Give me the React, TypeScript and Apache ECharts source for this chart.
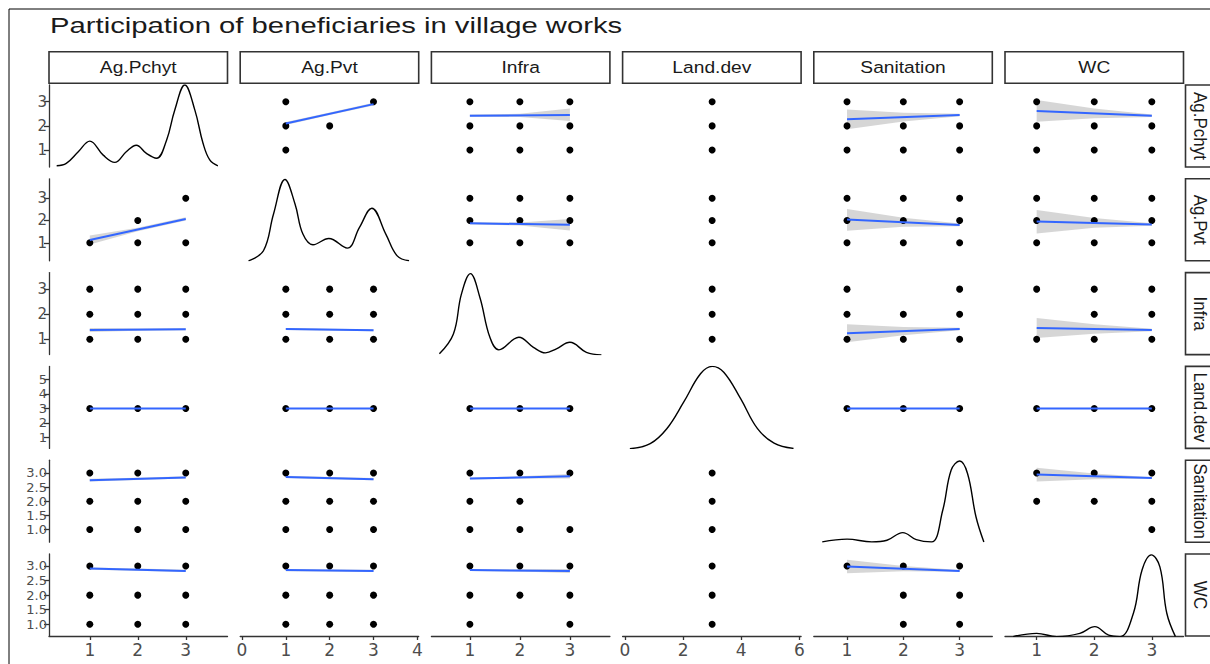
import React, { useEffect, useRef } from "react";
import * as echarts from "echarts";

// ---------- data ----------
const VARS = ["Ag.Pchyt", "Ag.Pvt", "Infra", "Land.dev", "Sanitation", "WC"];
const X_MIN = [0.15, -0.04, 0.23, -0.08, 0.41, 0.45];
const X_MAX = [3.87, 4.03, 3.8, 6.06, 3.58, 3.55];
const Y_MIN = [0.3, 0.19, 0.39, 0.24, 0.55, 0.6];
const Y_MAX = [3.69, 3.87, 3.66, 5.9, 3.45, 3.41];
const X_TICKS = [[1, 2, 3], [0, 1, 2, 3, 4], [1, 2, 3], [0, 2, 4, 6], [1, 2, 3], [1, 2, 3]];
const Y_TICKS = [[1, 2, 3], [1, 2, 3], [1, 2, 3], [1, 2, 3, 4, 5], [1, 1.5, 2, 2.5, 3], [1, 1.5, 2, 2.5, 3]];
const Y_DECIMALS = [0, 0, 0, 0, 1, 1];

// diagonal densities (x in column units, y in row units)
const DENS_AG_PCHYT = [[0.31, 0.35], [0.51, 0.45], [0.76, 0.93], [1.0, 1.37], [1.28, 0.79], [1.52, 0.49], [1.76, 0.93], [1.97, 1.2], [2.18, 0.86], [2.39, 0.66], [2.6, 1.41], [2.77, 2.65], [2.98, 3.69], [3.19, 2.65], [3.36, 1.28], [3.5, 0.59], [3.67, 0.35]];
const DENS_AG_PVT = [[0.15, 0.19], [0.49, 0.64], [0.72, 2.29], [0.98, 3.84], [1.21, 2.74], [1.39, 1.39], [1.62, 0.91], [1.98, 1.19], [2.4, 0.76], [2.68, 1.69], [2.96, 2.55], [3.28, 1.39], [3.54, 0.41], [3.81, 0.19]];
const DENS_INFRA = [[0.39, 0.42], [0.67, 1.21], [0.83, 2.8], [1.01, 3.62], [1.2, 2.67], [1.4, 1.08], [1.58, 0.58], [1.98, 1.08], [2.27, 0.68], [2.51, 0.46], [2.73, 0.62], [3.0, 0.88], [3.33, 0.48], [3.63, 0.38]];
const DENS_LAND_DEV = [[0.17, 0.22], [0.87, 0.57], [1.44, 1.6], [2.02, 3.43], [2.6, 5.39], [3.0, 5.9], [3.4, 5.5], [3.98, 3.67], [4.56, 1.6], [5.13, 0.61], [5.8, 0.24]];
const DENS_SANITATION = [[0.56, 0.56], [1.0, 0.66], [1.44, 0.56], [1.71, 0.62], [1.99, 0.89], [2.23, 0.64], [2.5, 0.56], [2.7, 1.68], [2.85, 3.1], [3.0, 3.42], [3.14, 2.98], [3.29, 1.45], [3.43, 0.56]];
const DENS_WC = [[0.59, 0.58], [1.0, 0.69], [1.35, 0.58], [1.75, 0.69], [2.01, 0.92], [2.25, 0.63], [2.45, 0.58], [2.68, 1.38], [2.83, 2.86], [2.99, 3.38], [3.14, 2.97], [3.26, 1.38], [3.41, 0.58]];
const DENSITIES = [DENS_AG_PCHYT, DENS_AG_PVT, DENS_INFRA, DENS_LAND_DEV, DENS_SANITATION, DENS_WC];

// scatter point sets [x, y]
const FULL = [[1, 1], [1, 2], [1, 3], [2, 1], [2, 2], [2, 3], [3, 1], [3, 2], [3, 3]];
const LAND_AS_X = [[3, 1], [3, 2], [3, 3]];
const LAND_AS_Y = [[1, 3], [2, 3], [3, 3]];
const PVT_VS_PCHYT = [[1, 1], [1, 2], [1, 3], [2, 2], [3, 3]];
const PCHYT_VS_PVT = [[1, 1], [2, 1], [2, 2], [3, 1], [3, 3]];
const SAN_VS_INFRA = [[1, 1], [1, 2], [1, 3], [2, 1], [2, 2], [3, 1], [3, 2], [3, 3]];
const WC_VS_INFRA = [[1, 1], [1, 3], [2, 1], [2, 2], [2, 3], [3, 1], [3, 2], [3, 3]];
const INFRA_VS_SAN = [[1, 1], [1, 2], [1, 3], [2, 1], [2, 2], [2, 3], [3, 1], [3, 3]];
const WC_VS_SAN = [[1, 2], [1, 3], [2, 2], [2, 3], [3, 1], [3, 2], [3, 3]];
const INFRA_VS_WC = [[1, 1], [1, 2], [1, 3], [2, 2], [2, 3], [3, 1], [3, 2], [3, 3]];
const SAN_VS_WC = [[1, 3], [2, 1], [2, 2], [2, 3], [3, 1], [3, 2], [3, 3]];

const POINTS_ROW1 = [null, PVT_VS_PCHYT, FULL, LAND_AS_X, FULL, FULL];
const POINTS_ROW2 = [PCHYT_VS_PVT, null, FULL, LAND_AS_X, FULL, FULL];
const POINTS_ROW3 = [FULL, FULL, null, LAND_AS_X, SAN_VS_INFRA, WC_VS_INFRA];
const POINTS_ROW4 = [LAND_AS_Y, LAND_AS_Y, LAND_AS_Y, null, LAND_AS_Y, LAND_AS_Y];
const POINTS_ROW5 = [FULL, FULL, INFRA_VS_SAN, LAND_AS_X, null, WC_VS_SAN];
const POINTS_ROW6 = [FULL, FULL, INFRA_VS_WC, LAND_AS_X, SAN_VS_WC, null];
const POINTS = [POINTS_ROW1, POINTS_ROW2, POINTS_ROW3, POINTS_ROW4, POINTS_ROW5, POINTS_ROW6];

// linear fits: [y at x=1, y at x=3]
const FIT_ROW1 = [null, [2.1, 2.9], [2.42, 2.45], null, [2.27, 2.45], [2.62, 2.42]];
const FIT_ROW2 = [[1.12, 2.07], null, [1.87, 1.81], null, [2.04, 1.8], [1.95, 1.82]];
const FIT_ROW3 = [[1.37, 1.4], [1.41, 1.36], null, null, [1.24, 1.41], [1.45, 1.37]];
const FIT_ROW4 = [[3, 3], [3, 3], [3, 3], null, [3, 3], [3, 3]];
const FIT_ROW5 = [[2.74, 2.84], [2.86, 2.78], [2.8, 2.88], null, null, [2.94, 2.82]];
const FIT_ROW6 = [[2.91, 2.83], [2.86, 2.83], [2.86, 2.83], null, [2.98, 2.83], null];
const FITS = [FIT_ROW1, FIT_ROW2, FIT_ROW3, FIT_ROW4, FIT_ROW5, FIT_ROW6];

// confidence bands: [lo, hi] at x = 1, 2, 3
const BAND_X = [1, 2, 3];
const BAND_ROW1 = [null, [[2.04, 2.16], [2.45, 2.55], [2.84, 2.96]], [[2.38, 2.47], [2.37, 2.5], [2.2, 2.72]], null, [[1.86, 2.68], [2.18, 2.54], [2.4, 2.5]], [[2.17, 3.07], [2.32, 2.72], [2.37, 2.47]]];
const BAND_ROW2 = [[[0.92, 1.32], [1.52, 1.67], [2.0, 2.14]], null, [[1.82, 1.92], [1.77, 1.91], [1.55, 2.07]], null, [[1.54, 2.52], [1.72, 2.12], [1.74, 1.86]], [[1.42, 2.47], [1.67, 2.11], [1.76, 1.88]]];
const BAND_ROW3 = [[[1.29, 1.45], [1.34, 1.43], [1.36, 1.44]], [[1.37, 1.45], [1.35, 1.42], [1.32, 1.4]], null, null, [[0.88, 1.6], [1.16, 1.49], [1.36, 1.46]], [[1.05, 1.85], [1.22, 1.6], [1.32, 1.42]]];
const BAND_ROW4 = [null, null, null, null, null, null];
const BAND_ROW5 = [[[2.7, 2.79], [2.75, 2.83], [2.8, 2.88]], [[2.82, 2.9], [2.78, 2.86], [2.74, 2.82]], [[2.77, 2.83], [2.8, 2.88], [2.8, 2.96]], null, null, [[2.7, 3.18], [2.78, 2.98], [2.79, 2.85]]];
const BAND_ROW6 = [[[2.87, 2.95], [2.84, 2.91], [2.79, 2.87]], [[2.82, 2.9], [2.81, 2.88], [2.79, 2.87]], [[2.83, 2.89], [2.81, 2.89], [2.76, 2.9]], null, [[2.75, 3.21], [2.82, 3.0], [2.8, 2.86]], null];
const BANDS = [BAND_ROW1, BAND_ROW2, BAND_ROW3, BAND_ROW4, BAND_ROW5, BAND_ROW6];

const TITLE = "Participation of beneficiaries in village works";

// ---------- layout ----------
const COL_LEFT0 = 49;
const COL_STEP = 191.2;
const PANEL_W = 178.5;
const ROW_TOP0 = 85;
const ROW_STEP = 93.8;
const PANEL_H = 82;
const FONT = "'Liberation Sans', Arial, sans-serif";
const WIDE_FONT = "'DejaVu Sans', 'Liberation Sans', sans-serif";

function buildOption() {
  const grid: any[] = [];
  const xAxis: any[] = [];
  const yAxis: any[] = [];
  const series: any[] = [];
  const graphic: any[] = [];

  graphic.push({
    type: "rect",
    shape: { x: 9, y: 9, width: 1300, height: 700 },
    style: { fill: "none", stroke: "#000", lineWidth: 1 },
    silent: true,
  });
  graphic.push({
    type: "text",
    x: 50,
    y: 25,
    scaleX: 1.33,
    style: { text: TITLE, font: `22px ${FONT}`, fill: "#1a1a1a", verticalAlign: "middle", align: "left" },
  });

  for (let c = 0; c < 6; c++) {
    const left = COL_LEFT0 + c * COL_STEP;
    graphic.push({
      type: "rect",
      shape: { x: left, y: 51.7, width: PANEL_W, height: 31.6 },
      style: { fill: "#fff", stroke: "#333", lineWidth: 1.6 },
    });
    graphic.push({
      type: "text",
      x: left + PANEL_W / 2,
      y: 67.5,
      scaleX: 1.13,
      style: { text: VARS[c], font: `17px ${FONT}`, fill: "#1a1a1a", align: "center", verticalAlign: "middle" },
    });
  }
  for (let r = 0; r < 6; r++) {
    const top = ROW_TOP0 + r * ROW_STEP;
    graphic.push({
      type: "rect",
      shape: { x: 1185.5, y: top, width: 30, height: PANEL_H },
      style: { fill: "#fff", stroke: "#333", lineWidth: 1.6 },
    });
    graphic.push({
      type: "text",
      x: 1200,
      y: top + PANEL_H / 2,
      rotation: -Math.PI / 2,
      scaleY: 1.13,
      style: { text: VARS[r], font: `17px ${FONT}`, fill: "#1a1a1a", align: "center", verticalAlign: "middle" },
    });
  }

  for (let r = 0; r < 6; r++) {
    const dense = Y_TICKS[r].length > 3;
    for (let c = 0; c < 6; c++) {
      const k = r * 6 + c;
      grid.push({
        left: COL_LEFT0 + c * COL_STEP,
        top: ROW_TOP0 + r * ROW_STEP,
        width: PANEL_W,
        height: PANEL_H,
        containLabel: false,
      });
      xAxis.push({
        type: "value",
        gridIndex: k,
        min: X_MIN[c],
        max: X_MAX[c],
        show: r === 5,
        axisLine: { show: true, onZero: false, lineStyle: { color: "#333", width: 1.3 } },
        axisTick: { show: true, length: 4, lineStyle: { color: "#333", width: 1.3 }, customValues: X_TICKS[c] },
        axisLabel: {
          show: true,
          customValues: X_TICKS[c],
          showMinLabel: true,
          showMaxLabel: true,
          fontSize: 17,
          fontFamily: WIDE_FONT,
          color: "#4d4d4d",
          margin: 5,
          formatter: (v: number) => String(v),
        },
        splitLine: { show: false },
      });
      yAxis.push({
        type: "value",
        gridIndex: k,
        min: Y_MIN[r],
        max: Y_MAX[r],
        show: c === 0,
        axisLine: { show: true, onZero: false, lineStyle: { color: "#333", width: 1.3 } },
        axisTick: { show: true, length: 5, lineStyle: { color: "#333", width: 1.3 }, customValues: Y_TICKS[r] },
        axisLabel: {
          show: true,
          customValues: Y_TICKS[r],
          showMinLabel: true,
          showMaxLabel: true,
          hideOverlap: false,
          fontSize: dense ? 13 : 15,
          lineHeight: dense ? 12 : 16,
          fontFamily: WIDE_FONT,
          color: "#4d4d4d",
          margin: 2,
          formatter: (v: number) => v.toFixed(Y_DECIMALS[r]),
        },
        splitLine: { show: false },
      });

      if (r === c) {
        series.push({
          type: "line",
          xAxisIndex: k,
          yAxisIndex: k,
          data: DENSITIES[r],
          smooth: 0.4,
          symbol: "none",
          lineStyle: { color: "#000", width: 1.4 },
          z: 3,
          silent: true,
        });
        continue;
      }
      const band = BANDS[r][c];
      if (band) {
        const item: number[] = [];
        for (let i = 0; i < 3; i++) item.push(BAND_X[i], band[i][0], band[i][1]);
        series.push({
          type: "custom",
          xAxisIndex: k,
          yAxisIndex: k,
          dimensions: ["x1", "l1", "h1", "x2", "l2", "h2", "x3", "l3", "h3"],
          encode: { x: [0, 3, 6], y: [1, 2, 4, 5, 7, 8] },
          data: [item],
          silent: true,
          z: 2,
          renderItem: (_p: any, api: any) => {
            const pts: number[][] = [];
            for (let i = 0; i < 3; i++) pts.push(api.coord([api.value(i * 3), api.value(i * 3 + 2)]));
            for (let i = 2; i >= 0; i--) pts.push(api.coord([api.value(i * 3), api.value(i * 3 + 1)]));
            return { type: "polygon", shape: { points: pts }, style: { fill: "#999999", opacity: 0.4 } };
          },
        });
      }
      const pts = POINTS[r][c];
      if (pts) {
        series.push({
          type: "scatter",
          xAxisIndex: k,
          yAxisIndex: k,
          data: pts,
          symbolSize: 7,
          itemStyle: { color: "#000", opacity: 1 },
          z: 3,
          silent: true,
        });
      }
      const fit = FITS[r][c];
      if (fit) {
        series.push({
          type: "line",
          xAxisIndex: k,
          yAxisIndex: k,
          data: [[1, fit[0]], [3, fit[1]]],
          symbol: "none",
          lineStyle: { color: "#3366FF", width: 2 },
          z: 4,
          silent: true,
        });
      }
    }
  }

  return {
    animation: false,
    backgroundColor: "#fff",
    grid,
    xAxis,
    yAxis,
    series,
    graphic,
  };
}

export default function App() {
  const ref = useRef<HTMLDivElement>(null);
  useEffect(() => {
    if (!ref.current) return;
    const chart = echarts.init(ref.current, undefined, { renderer: "svg" });
    chart.setOption(buildOption());
    return () => chart.dispose();
  }, []);
  return (
    <div
      ref={ref}
      style={{ position: "fixed", left: 0, top: 0, width: 1210, height: 664, background: "#fff" }}
    />
  );
}
